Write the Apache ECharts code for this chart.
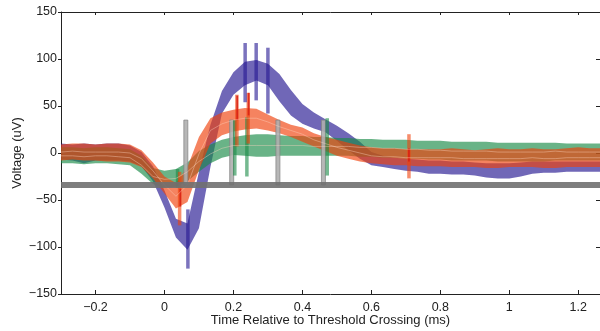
<!DOCTYPE html>
<html>
<head>
<meta charset="utf-8">
<script src="https://cdn.jsdelivr.net/npm/echarts@6/dist/echarts.min.js"></script>
<style>html,body{margin:0;padding:0;background:#fff}#c{width:600px;height:331px}</style>
</head>
<body>
<div id="c"></div>
<script>
// ---- data ----
const timeMs = [-0.3,-0.2667,-0.2333,-0.2,-0.1667,-0.1333,-0.1,-0.0667,-0.0333,0,0.0333,0.0667,0.1,0.1333,0.1667,0.2,0.2333,0.2667,0.3,0.3333,0.3667,0.4,0.4333,0.4667,0.5,0.5333,0.5667,0.6,0.6333,0.6667,0.7,0.7333,0.7667,0.8,0.8333,0.8667,0.9,0.9333,0.9667,1.0,1.0333,1.0667,1.1,1.1333,1.1667,1.2,1.2333,1.2667];

const blueUpper = [10,9,10,9,10,10,8,1,-14,-40,-70,-75, -20,30,66,86,97,99,95,84,67,52, 43,36,29,21,12,1,-3,-5,-6,-7, -8,-8,-9,-9,-10,-11,-11,-11,-10,-9, -9,-9,-9,-9,-9,-9];
const blueLower = [-7,-8,-11,-8,-8,-8,-9,-14,-30,-58,-90,-103, -80,-15,42,62,72,77,72,55,40,31, 26,22,13,3,-6,-13,-15,-17,-19,-20, -22,-22,-23,-23,-24,-26,-27,-27,-25,-22, -21,-21,-20,-20,-20,-20];

const greenUpper = [6,6,5,6,6,5,4,-3,-16,-19,-17,-10, 2,9,14,17,19,20,20,19,18,18, 17,17,16,16,15,15,14,14,14,13, 13,13,12,12,12,12,11,11,11,11, 11,11,10,10,10,10];
const greenLower = [-11,-11,-12,-11,-11,-12,-13,-22,-33,-37,-36,-30, -20,-11,-5,-2,-3,-4,-4,-3,-3,-3, -3,-3,-3,-3,-4,-4,-5,-5,-6,-6, -7,-7,-8,-8,-8,-8,-9,-9,-9,-9, -9,-8,-8,-8,-8,-8];
const greenMean  = [-3,-3,-4,-3,-3,-4,-5,-13,-25,-28,-27,-20, -9,-1,5,8,8,8,8,8,8,8, 7,7,7,7,6,6,5,5,4,4, 3,3,2,2,2,2,1,1,1,1, 1,2,1,1,1,1];

const orangeUpper = [9,10,10,9,10,10,9,3,-10,-25,-32,-15, 17,37,43,46,48,47,41,35,30,27, 21,17,14,11,8,6,5,5,4,4, 4,4,5,4,3,4,5,4,4,5, 4,4,5,6,5,5];
const orangeLower = [-8,-7,-8,-8,-9,-9,-10,-15,-27,-43,-59,-52, -18,10,19,23,25,26,24,21,17,12, 7,2,-3,-6,-9,-11,-12,-13,-13,-14, -14,-14,-15,-15,-15,-16,-16,-15,-15,-15, -16,-16,-15,-15,-15,-15];
const orangeMean  = [1,2,1,1,1,1,0,-6,-19,-34,-46,-34, -1,24,31,35,37,37,33,28,24,20, 14,10,6,3,0,-3,-4,-4,-5,-5, -5,-5,-5,-6,-6,-6,-6,-6,-6,-5, -6,-6,-5,-5,-5,-5];

const thresholdUV = -34;

// error bars: [time, low, high]
const grayBars   = [[0.062,-34,35],[0.195,-34,35],[0.329,-34,35],[0.461,-34,35]];
const blueBars   = [[0.068,-123,-60],[0.234,54,117],[0.266,56,117],[0.300,42,112]];
const orangeBars = [[0.044,-77,-20],[0.210,7,62],[0.243,10,64],[0.709,-27,20]];
const redBars    = [[0.046,-57,-38],[0.211,35,61],[0.244,40,64],[0.709,-9,5]];
const greenBars  = [[0.038,-37,-17],[0.204,-24,35],[0.239,-25,38],[0.472,-24,37]];

const xTicks = [-0.2,0,0.2,0.4,0.6,0.8,1,1.2];
const xMin = -0.3, xMax = 1.263;
const yTicksInterval = 50;

// ---- styles ----
const BLUE = 'rgb(35,22,145)', GREEN = 'rgb(25,138,70)', ORANGE = 'rgb(240,65,10)';
const BAND_OPACITY = 0.65;
const MEAN_COLOR = 'rgba(255,214,196,0.5)';
const FONT = 'Liberation Sans, Arial, Helvetica, sans-serif';
const fmt = v => String(v).replace('-', '\u2212');

// band = filled polygon between lower and upper, positioned through the axes
function bandSeries(lower, upper, color) {
  return {
    type: 'custom', silent: true, clip: true,
    data: timeMs.map((t, i) => [t, lower[i], upper[i]]),
    encode: { x: 0, y: [1, 2] },
    renderItem: function (params, api) {
      if (params.dataIndex !== 0) return null;
      const pts = [];
      for (let i = 0; i < timeMs.length; i++) pts.push(api.coord([timeMs[i], upper[i]]));
      for (let i = timeMs.length - 1; i >= 0; i--) pts.push(api.coord([timeMs[i], lower[i]]));
      return { type: 'polygon', shape: { points: pts },
        style: { fill: color, opacity: BAND_OPACITY } };
    }
  };
}

function meanSeries(mean) {
  return { type: 'line', symbol: 'none', silent: true,
    data: timeMs.map((t, i) => [t, mean[i]]),
    lineStyle: { color: MEAN_COLOR, width: 0.8 } };
}

function barSeries(data, width, fill, stroke, lw) {
  return {
    type: 'custom', silent: true, data: data,
    encode: { x: 0, y: [1, 2] },
    renderItem: function (params, api) {
      const x = api.value(0), lo = api.value(1), hi = api.value(2);
      const pTop = api.coord([x, hi]), pBot = api.coord([x, lo]);
      return { type: 'rect',
        shape: { x: pTop[0] - width / 2, y: pTop[1], width: width, height: pBot[1] - pTop[1] },
        style: { fill: fill, stroke: stroke, lineWidth: lw } };
    }
  };
}

const chart = echarts.init(document.getElementById('c'), null, { renderer: 'canvas' });
const axisCol = '#222';
chart.setOption({
  animation: false,
  backgroundColor: '#fff',
  grid: { left: 61, right: 0, top: 12, bottom: 37, containLabel: false, outerBoundsMode: 'none' },
  xAxis: [
    { type: 'value', min: xMin, max: xMax, position: 'bottom',
      axisLine: { show: true, onZero: false, lineStyle: { color: axisCol, width: 1 } },
      axisTick: { show: true, inside: true, length: 4, customValues: xTicks, lineStyle: { color: axisCol } },
      axisLabel: { show: true, customValues: xTicks, formatter: fmt, fontSize: 12.5, color: axisCol, margin: 7, fontFamily: FONT },
      splitLine: { show: false },
      name: 'Time Relative to Threshold Crossing (ms)', nameLocation: 'middle', nameGap: 20, nameMoveOverlap: false,
      nameTextStyle: { fontSize: 13, color: axisCol, fontFamily: FONT } },
    { type: 'value', min: xMin, max: xMax, position: 'top',
      axisLine: { show: true, onZero: false, lineStyle: { color: axisCol, width: 1 } },
      axisTick: { show: true, inside: true, length: 3, customValues: xTicks, lineStyle: { color: axisCol } },
      axisLabel: { show: false }, splitLine: { show: false } }
  ],
  yAxis: [
    { type: 'value', min: -150, max: 150, interval: yTicksInterval, position: 'left',
      axisLine: { show: true, onZero: false, lineStyle: { color: axisCol, width: 1 } },
      axisTick: { show: true, inside: false, length: 3, lineStyle: { color: axisCol } },
      axisLabel: { formatter: fmt, fontSize: 12.5, color: axisCol, margin: 4, fontFamily: FONT },
      splitLine: { show: false },
      name: 'Voltage (uV)', nameLocation: 'middle', nameGap: 37, nameMoveOverlap: false,
      nameTextStyle: { fontSize: 13, color: axisCol, fontFamily: FONT } },
    { type: 'value', min: -150, max: 150, interval: yTicksInterval, position: 'right',
      axisLine: { show: true, onZero: false, lineStyle: { color: axisCol, width: 1 } },
      axisTick: { show: true, inside: true, length: 4, lineStyle: { color: axisCol } },
      axisLabel: { show: false }, splitLine: { show: false } }
  ],
  series: [
    bandSeries(blueLower, blueUpper, BLUE),
    bandSeries(greenLower, greenUpper, GREEN),
    bandSeries(orangeLower, orangeUpper, ORANGE),
    meanSeries(greenMean),
    meanSeries(orangeMean),
    { type: 'line', symbol: 'none', silent: true, data: [[xMin, thresholdUV], [xMax, thresholdUV]],
      lineStyle: { color: 'rgb(112,112,112)', width: 6, opacity: 0.9 } },
    barSeries(grayBars, 4, 'rgba(175,175,175,0.9)', 'rgba(130,130,130,0.9)', 0.8),
    barSeries(greenBars, 3.5, 'rgba(25,138,70,0.6)', null, 0),
    barSeries(orangeBars, 3.5, 'rgba(240,65,10,0.6)', null, 0),
    barSeries(redBars, 1.8, 'rgba(215,30,20,0.85)', null, 0),
    barSeries(blueBars, 3.5, 'rgba(35,22,145,0.6)', null, 0)
  ]
});
</script>
</body>
</html>
